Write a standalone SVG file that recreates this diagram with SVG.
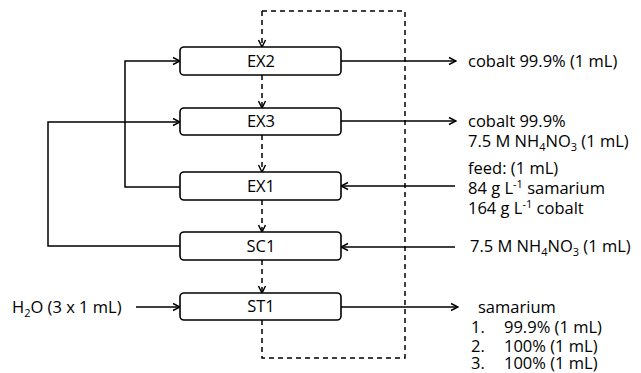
<svg xmlns="http://www.w3.org/2000/svg" width="641" height="373" viewBox="0 0 641 373">
<defs>
<marker id="ah" markerWidth="10" markerHeight="10" refX="9" refY="5" orient="auto" markerUnits="userSpaceOnUse">
<path d="M2,1.5 L9,5 L2,8.5" fill="none" stroke="#000" stroke-width="1.5"/>
</marker>
<style>
.box{fill:#fff;stroke:#000;stroke-width:1.6}
.ln{fill:none;stroke:#000;stroke-width:1.5}
.ds{fill:none;stroke:#000;stroke-width:1.5;stroke-dasharray:5,4}
text{font-family:"Open Sans","Liberation Sans",sans-serif;font-size:16.5px;fill:#000}
.c{text-anchor:middle}
.sub{font-size:11px}
</style>
</defs>
<rect width="641" height="373" fill="#fff"/>
<g id="connectors">
<path class="ds" d="M262,11 H405 V358 H262 V320"/>
<path class="ds" d="M262,11 V47" marker-end="url(#ah)"/>
<path class="ds" d="M262,75 V108" marker-end="url(#ah)"/>
<path class="ds" d="M262,135 V172" marker-end="url(#ah)"/>
<path class="ds" d="M262,200 V232" marker-end="url(#ah)"/>
<path class="ds" d="M262,260 V293" marker-end="url(#ah)"/>
<path class="ln" d="M180,187 H125 V61 H180" marker-end="url(#ah)"/>
<path class="ln" d="M180,246 H48 V122 H180" marker-end="url(#ah)"/>
<path class="ln" d="M341,61 H456" marker-end="url(#ah)"/>
<path class="ln" d="M341,121 H456" marker-end="url(#ah)"/>
<path class="ln" d="M455,186 H341" marker-end="url(#ah)"/>
<path class="ln" d="M455,247 H341" marker-end="url(#ah)"/>
<path class="ln" d="M341,307 H458" marker-end="url(#ah)"/>
<path class="ln" d="M136,307 H180" marker-end="url(#ah)"/>
</g>
<g id="EX2"><rect class="box" x="180" y="47" width="161" height="28" rx="4"/><text class="c" x="261" y="67">EX2</text></g>
<g id="EX3"><rect class="box" x="180" y="108" width="161" height="27" rx="4"/><text class="c" x="261" y="127">EX3</text></g>
<g id="EX1"><rect class="box" x="180" y="172" width="161" height="28" rx="4"/><text class="c" x="261" y="192">EX1</text></g>
<g id="SC1"><rect class="box" x="180" y="232" width="161" height="28" rx="4"/><text class="c" x="261" y="252">SC1</text></g>
<g id="ST1"><rect class="box" x="180" y="293" width="161" height="27" rx="4"/><text class="c" x="261" y="312">ST1</text></g>
<g id="labels">
<text x="468" y="67">cobalt 99.9% (1 mL)</text>
<text x="468" y="127">cobalt 99.9%</text>
<text x="468" y="147">7.5 M NH<tspan class="sub" dy="4">4</tspan><tspan dy="-4">NO</tspan><tspan class="sub" dy="4">3</tspan><tspan dy="-4"> (1 mL)</tspan></text>
<text x="468" y="174">feed: (1 mL)</text>
<text x="468" y="194">84 g L<tspan class="sub" dy="-6">-1</tspan><tspan dy="6"> samarium</tspan></text>
<text x="468" y="214">164 g L<tspan class="sub" dy="-6">-1</tspan><tspan dy="6"> cobalt</tspan></text>
<text x="470" y="252">7.5 M NH<tspan class="sub" dy="4">4</tspan><tspan dy="-4">NO</tspan><tspan class="sub" dy="4">3</tspan><tspan dy="-4"> (1 mL)</tspan></text>
<text x="478" y="313">samarium</text>
<text x="471" y="333">1.</text><text x="504" y="333">99.9% (1 mL)</text>
<text x="471" y="352">2.</text><text x="504" y="352">100% (1 mL)</text>
<text x="471" y="369">3.</text><text x="504" y="369">100% (1 mL)</text>
<text x="12" y="313">H<tspan class="sub" dy="4">2</tspan><tspan dy="-4">O (3 x 1 mL)</tspan></text>
</g>
</svg>
